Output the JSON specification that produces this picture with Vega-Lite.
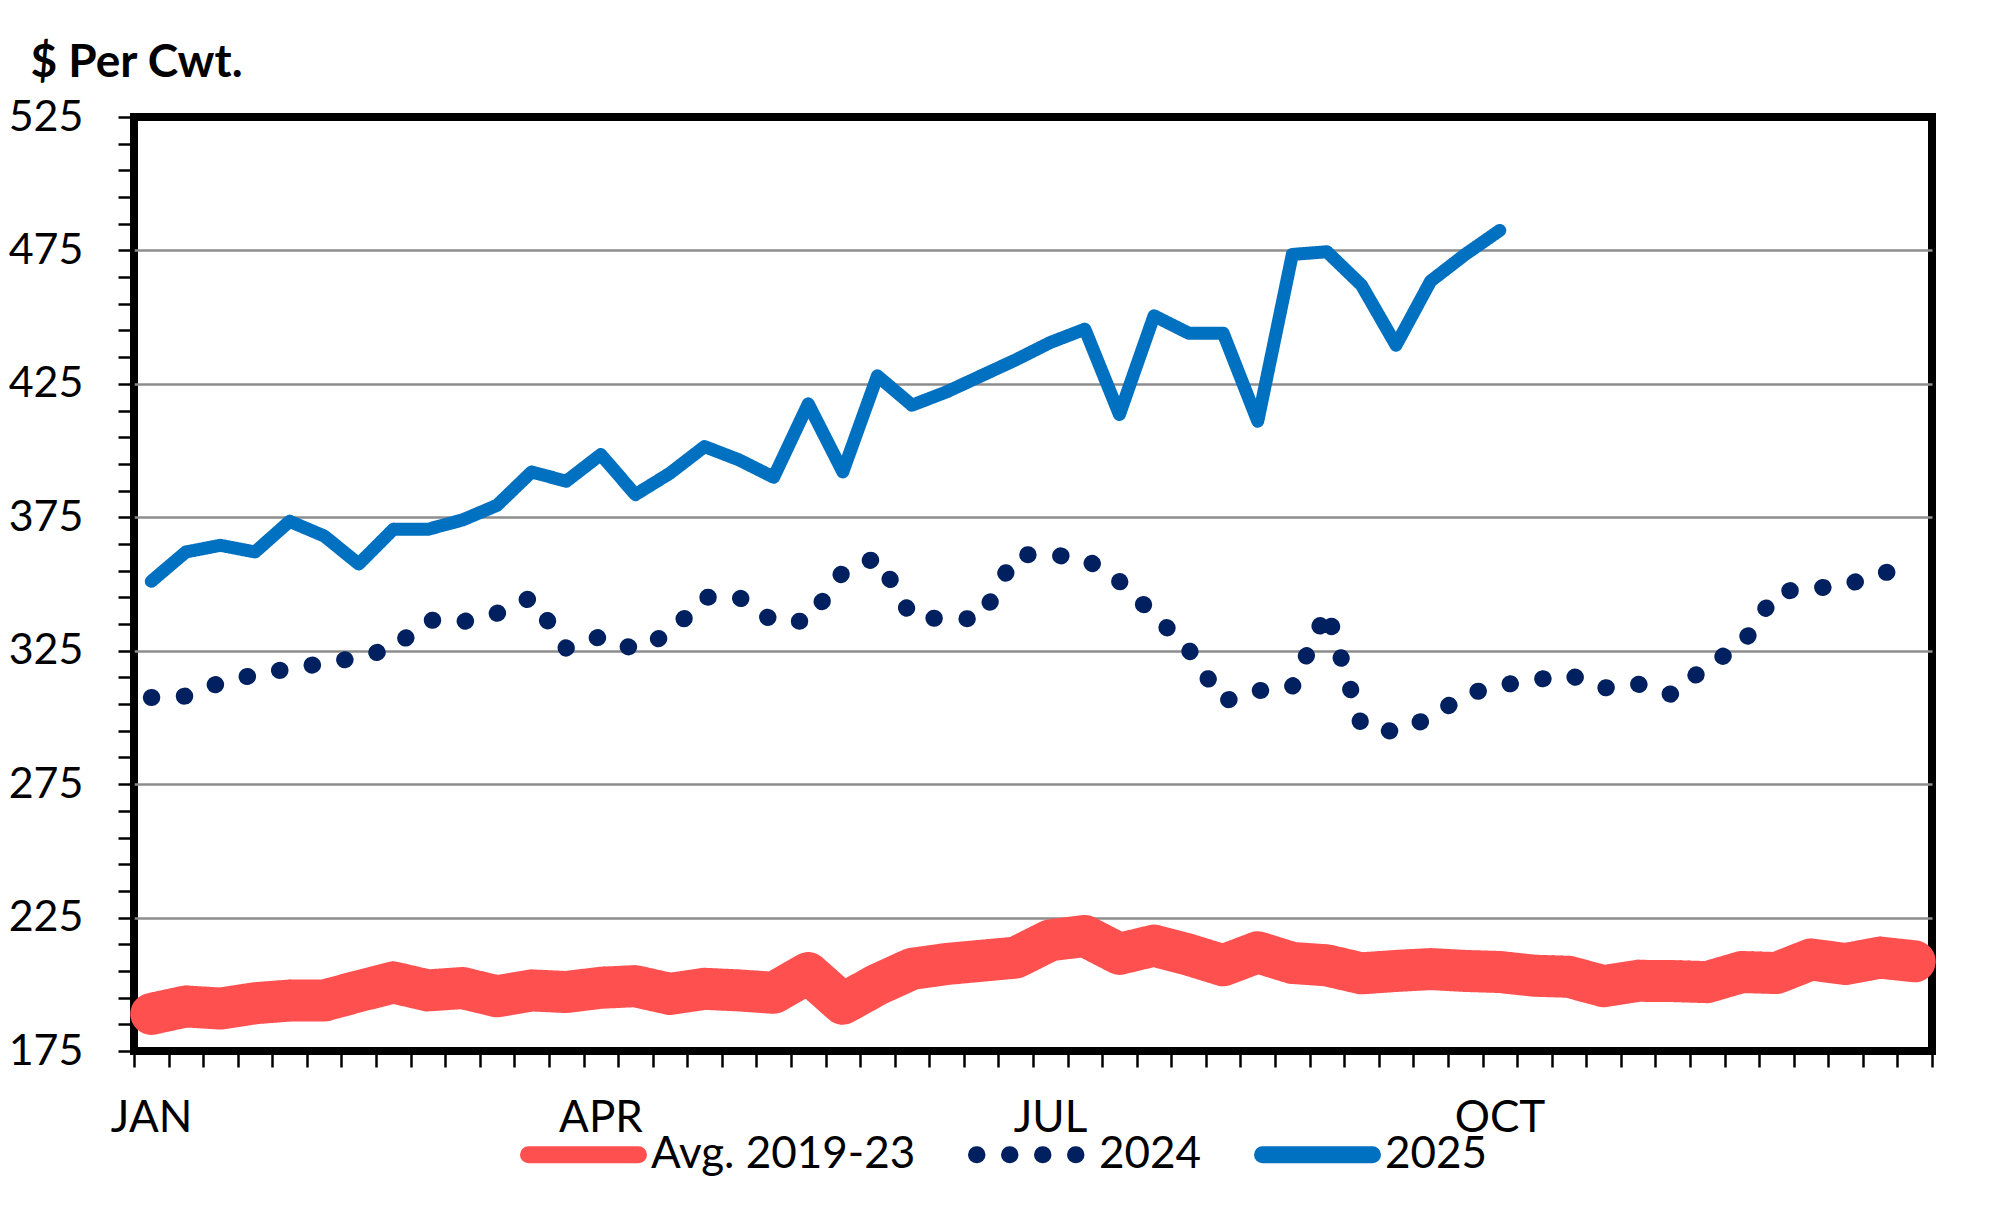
{
  "$schema": "https://vega.github.io/schema/vega-lite/v6.json",
  "width": 1798,
  "height": 934,
  "autosize": {"type": "none"},
  "padding": {"left": 134, "top": 117, "right": 68, "bottom": 174},
  "background": "white",
  "data": {"values": [
    {"week": 1, "series": "Avg. 2019-23", "value": 188.9},
    {"week": 2, "series": "Avg. 2019-23", "value": 191.7},
    {"week": 3, "series": "Avg. 2019-23", "value": 190.9},
    {"week": 4, "series": "Avg. 2019-23", "value": 192.9},
    {"week": 5, "series": "Avg. 2019-23", "value": 193.9},
    {"week": 6, "series": "Avg. 2019-23", "value": 193.9},
    {"week": 7, "series": "Avg. 2019-23", "value": 197.4},
    {"week": 8, "series": "Avg. 2019-23", "value": 200.7},
    {"week": 9, "series": "Avg. 2019-23", "value": 197.7},
    {"week": 10, "series": "Avg. 2019-23", "value": 198.6},
    {"week": 11, "series": "Avg. 2019-23", "value": 195.5},
    {"week": 12, "series": "Avg. 2019-23", "value": 197.7},
    {"week": 13, "series": "Avg. 2019-23", "value": 197.1},
    {"week": 14, "series": "Avg. 2019-23", "value": 198.7},
    {"week": 15, "series": "Avg. 2019-23", "value": 199.3},
    {"week": 16, "series": "Avg. 2019-23", "value": 196.4},
    {"week": 17, "series": "Avg. 2019-23", "value": 198.3},
    {"week": 18, "series": "Avg. 2019-23", "value": 197.7},
    {"week": 19, "series": "Avg. 2019-23", "value": 196.8},
    {"week": 20, "series": "Avg. 2019-23", "value": 204.2},
    {"week": 21, "series": "Avg. 2019-23", "value": 192.7},
    {"week": 22, "series": "Avg. 2019-23", "value": 199.9},
    {"week": 23, "series": "Avg. 2019-23", "value": 205.8},
    {"week": 24, "series": "Avg. 2019-23", "value": 207.6},
    {"week": 25, "series": "Avg. 2019-23", "value": 208.8},
    {"week": 26, "series": "Avg. 2019-23", "value": 210.0},
    {"week": 27, "series": "Avg. 2019-23", "value": 216.5},
    {"week": 28, "series": "Avg. 2019-23", "value": 218.1},
    {"week": 29, "series": "Avg. 2019-23", "value": 211.4},
    {"week": 30, "series": "Avg. 2019-23", "value": 214.5},
    {"week": 31, "series": "Avg. 2019-23", "value": 211.1},
    {"week": 32, "series": "Avg. 2019-23", "value": 207.1},
    {"week": 33, "series": "Avg. 2019-23", "value": 212.0},
    {"week": 34, "series": "Avg. 2019-23", "value": 208.0},
    {"week": 35, "series": "Avg. 2019-23", "value": 207.1},
    {"week": 36, "series": "Avg. 2019-23", "value": 204.1},
    {"week": 37, "series": "Avg. 2019-23", "value": 205.0},
    {"week": 38, "series": "Avg. 2019-23", "value": 205.7},
    {"week": 39, "series": "Avg. 2019-23", "value": 205.0},
    {"week": 40, "series": "Avg. 2019-23", "value": 204.6},
    {"week": 41, "series": "Avg. 2019-23", "value": 203.2},
    {"week": 42, "series": "Avg. 2019-23", "value": 202.8},
    {"week": 43, "series": "Avg. 2019-23", "value": 199.3},
    {"week": 44, "series": "Avg. 2019-23", "value": 201.3},
    {"week": 45, "series": "Avg. 2019-23", "value": 201.2},
    {"week": 46, "series": "Avg. 2019-23", "value": 200.8},
    {"week": 47, "series": "Avg. 2019-23", "value": 204.6},
    {"week": 48, "series": "Avg. 2019-23", "value": 204.2},
    {"week": 49, "series": "Avg. 2019-23", "value": 209.3},
    {"week": 50, "series": "Avg. 2019-23", "value": 207.6},
    {"week": 51, "series": "Avg. 2019-23", "value": 210.0},
    {"week": 52, "series": "Avg. 2019-23", "value": 208.6},
    {"week": 1, "series": "2024", "value": 307.5},
    {"week": 2, "series": "2024", "value": 308.0},
    {"week": 3, "series": "2024", "value": 313.0},
    {"week": 4, "series": "2024", "value": 316.0},
    {"week": 5, "series": "2024", "value": 318.3},
    {"week": 6, "series": "2024", "value": 320.3},
    {"week": 7, "series": "2024", "value": 322.5},
    {"week": 8, "series": "2024", "value": 326.0},
    {"week": 9, "series": "2024", "value": 336.5},
    {"week": 10, "series": "2024", "value": 335.8},
    {"week": 11, "series": "2024", "value": 339.0},
    {"week": 12, "series": "2024", "value": 345.0},
    {"week": 13, "series": "2024", "value": 326.0},
    {"week": 14, "series": "2024", "value": 330.3},
    {"week": 15, "series": "2024", "value": 325.5},
    {"week": 16, "series": "2024", "value": 331.5},
    {"week": 17, "series": "2024", "value": 345.0},
    {"week": 18, "series": "2024", "value": 345.0},
    {"week": 19, "series": "2024", "value": 336.0},
    {"week": 20, "series": "2024", "value": 336.0},
    {"week": 21, "series": "2024", "value": 354.5},
    {"week": 22, "series": "2024", "value": 360.0},
    {"week": 23, "series": "2024", "value": 337.5},
    {"week": 24, "series": "2024", "value": 337.0},
    {"week": 25, "series": "2024", "value": 337.0},
    {"week": 26, "series": "2024", "value": 361.0},
    {"week": 27, "series": "2024", "value": 361.0},
    {"week": 28, "series": "2024", "value": 359.5},
    {"week": 29, "series": "2024", "value": 351.0},
    {"week": 30, "series": "2024", "value": 338.5},
    {"week": 31, "series": "2024", "value": 325.5},
    {"week": 32, "series": "2024", "value": 306.0},
    {"week": 33, "series": "2024", "value": 310.0},
    {"week": 34, "series": "2024", "value": 311.5},
    {"week": 35, "series": "2024", "value": 340.0},
    {"week": 36, "series": "2024", "value": 297.0},
    {"week": 37, "series": "2024", "value": 294.5},
    {"week": 38, "series": "2024", "value": 300.0},
    {"week": 39, "series": "2024", "value": 308.5},
    {"week": 40, "series": "2024", "value": 312.0},
    {"week": 41, "series": "2024", "value": 314.0},
    {"week": 42, "series": "2024", "value": 316.0},
    {"week": 43, "series": "2024", "value": 311.0},
    {"week": 44, "series": "2024", "value": 312.5},
    {"week": 45, "series": "2024", "value": 308.5},
    {"week": 46, "series": "2024", "value": 319.5},
    {"week": 47, "series": "2024", "value": 327.0},
    {"week": 48, "series": "2024", "value": 347.0},
    {"week": 49, "series": "2024", "value": 348.3},
    {"week": 50, "series": "2024", "value": 349.5},
    {"week": 51, "series": "2024", "value": 354.0},
    {"week": 52, "series": "2024", "value": 356.0},
    {"week": 1, "series": "2025", "value": 351.0},
    {"week": 2, "series": "2025", "value": 362.0},
    {"week": 3, "series": "2025", "value": 364.5},
    {"week": 4, "series": "2025", "value": 362.0},
    {"week": 5, "series": "2025", "value": 373.5},
    {"week": 6, "series": "2025", "value": 368.0},
    {"week": 7, "series": "2025", "value": 357.5},
    {"week": 8, "series": "2025", "value": 370.5},
    {"week": 9, "series": "2025", "value": 370.5},
    {"week": 10, "series": "2025", "value": 374.0},
    {"week": 11, "series": "2025", "value": 379.5},
    {"week": 12, "series": "2025", "value": 392.0},
    {"week": 13, "series": "2025", "value": 388.5},
    {"week": 14, "series": "2025", "value": 398.5},
    {"week": 15, "series": "2025", "value": 383.5},
    {"week": 16, "series": "2025", "value": 391.5},
    {"week": 17, "series": "2025", "value": 401.5},
    {"week": 18, "series": "2025", "value": 396.5},
    {"week": 19, "series": "2025", "value": 390.0},
    {"week": 20, "series": "2025", "value": 417.5},
    {"week": 21, "series": "2025", "value": 392.0},
    {"week": 22, "series": "2025", "value": 428.0},
    {"week": 23, "series": "2025", "value": 417.0},
    {"week": 24, "series": "2025", "value": 422.0},
    {"week": 25, "series": "2025", "value": 428.0},
    {"week": 26, "series": "2025", "value": 434.0},
    {"week": 27, "series": "2025", "value": 440.5},
    {"week": 28, "series": "2025", "value": 445.5},
    {"week": 29, "series": "2025", "value": 413.5},
    {"week": 30, "series": "2025", "value": 450.5},
    {"week": 31, "series": "2025", "value": 444.0},
    {"week": 32, "series": "2025", "value": 444.0},
    {"week": 33, "series": "2025", "value": 411.0},
    {"week": 34, "series": "2025", "value": 473.5},
    {"week": 35, "series": "2025", "value": 474.5},
    {"week": 36, "series": "2025", "value": 462.0},
    {"week": 37, "series": "2025", "value": 439.5},
    {"week": 38, "series": "2025", "value": 463.5},
    {"week": 39, "series": "2025", "value": 473.5},
    {"week": 40, "series": "2025", "value": 482.5}
  ]},
  "encoding": {
    "x": {
      "field": "week",
      "type": "quantitative",
      "scale": {"domain": [0.5, 52.5], "nice": false, "zero": false},
      "axis": {
        "title": null,
        "domain": false,
        "grid": false,
        "values": [0.5, 1.5, 2.5, 3.5, 4.5, 5.5, 6.5, 7.5, 8.5, 9.5, 10.5, 11.5, 12.5, 13.5, 14.5, 15.5, 16.5, 17.5, 18.5, 19.5, 20.5, 21.5, 22.5, 23.5, 24.5, 25.5, 26.5, 27.5, 28.5, 29.5, 30.5, 31.5, 32.5, 33.5, 34.5, 35.5, 36.5, 37.5, 38.5, 39.5, 40.5, 41.5, 42.5, 43.5, 44.5, 45.5, 46.5, 47.5, 48.5, 49.5, 50.5, 51.5, 52.5],
        "labelExpr": "datum.value == 0.5 ? 'JAN' : datum.value == 13.5 ? 'APR' : datum.value == 26.5 ? 'JUL' : datum.value == 39.5 ? 'OCT' : ''",
        "labelOffset": 17,
        "labelFlush": false,
        "labelOverlap": false,
        "labelBound": false,
        "labelAlign": "center",
        "labelBaseline": "top",
        "labelPadding": 29,
        "labelFont": "Lato",
        "labelFontSize": 44,
        "labelColor": "black",
        "tickSize": 16,
        "tickWidth": 2.5,
        "tickColor": "black"
      }
    },
    "y": {
      "field": "value",
      "type": "quantitative",
      "scale": {"domain": [175, 525], "nice": false, "zero": false},
      "axis": {
        "title": "$ Per Cwt.",
        "titleAngle": 0,
        "titleAlign": "left",
        "titleBaseline": "alphabetic",
        "titleX": -104,
        "titleY": -41,
        "titleFont": "Lato",
        "titleFontWeight": "bold",
        "titleFontSize": 46,
        "titleColor": "black",
        "domain": false,
        "values": [175, 185, 195, 205, 215, 225, 235, 245, 255, 265, 275, 285, 295, 305, 315, 325, 335, 345, 355, 365, 375, 385, 395, 405, 415, 425, 435, 445, 455, 465, 475, 485, 495, 505, 515, 525],
        "labelExpr": "(datum.value - 175) % 50 == 0 ? datum.label : ''",
        "labelOverlap": false,
        "labelPadding": 35,
        "labelFont": "Lato",
        "labelFontSize": 43,
        "labelColor": "black",
        "tickSize": 16,
        "tickWidth": 2.5,
        "tickColor": "black",
        "grid": true,
        "gridColor": "#8c8c8c",
        "gridWidth": 2.5,
        "gridOpacity": {"condition": {"test": "(datum.value - 175) % 50 == 0 && datum.value > 175 && datum.value < 525", "value": 1}, "value": 0}
      }
    },
    "color": {
      "field": "series",
      "type": "nominal",
      "scale": {"domain": ["Avg. 2019-23", "2024", "2025"], "range": ["#FF5050", "#002060", "#0070C0"]},
      "legend": {
        "title": null,
        "orient": "none",
        "direction": "horizontal",
        "legendX": 386,
        "legendY": 974,
        "symbolType": "stroke",
        "symbolSize": 12100,
        "symbolStrokeWidth": 17,
        "labelFont": "Lato",
        "labelFontSize": 44,
        "labelColor": "black",
        "labelLimit": 500,
        "labelOffset": 4,
        "columnPadding": 26,
        "encode": {"symbols": {"update": {"strokeCap": {"value": "round"}, "strokeWidth": {"value": 17}}}}
      }
    },
    "strokeDash": {
      "field": "series",
      "type": "nominal",
      "scale": {"domain": ["Avg. 2019-23", "2024", "2025"], "range": [[1, 0], [0.5, 32.5], [1, 0]]}
    }
  },
  "layer": [
    {
      "transform": [{"filter": "datum.series == 'Avg. 2019-23'"}],
      "mark": {"type": "line", "strokeWidth": 42, "strokeCap": "round", "strokeJoin": "round"}
    },
    {
      "transform": [{"filter": "datum.series == '2024'"}],
      "mark": {"type": "line", "strokeWidth": 17, "strokeCap": "round", "strokeJoin": "round"}
    },
    {
      "transform": [{"filter": "datum.series == '2025'"}],
      "mark": {"type": "line", "strokeWidth": 13, "strokeCap": "round", "strokeJoin": "round"}
    }
  ],
  "config": {
    "view": {"stroke": "black", "strokeWidth": 8}
  }
}
